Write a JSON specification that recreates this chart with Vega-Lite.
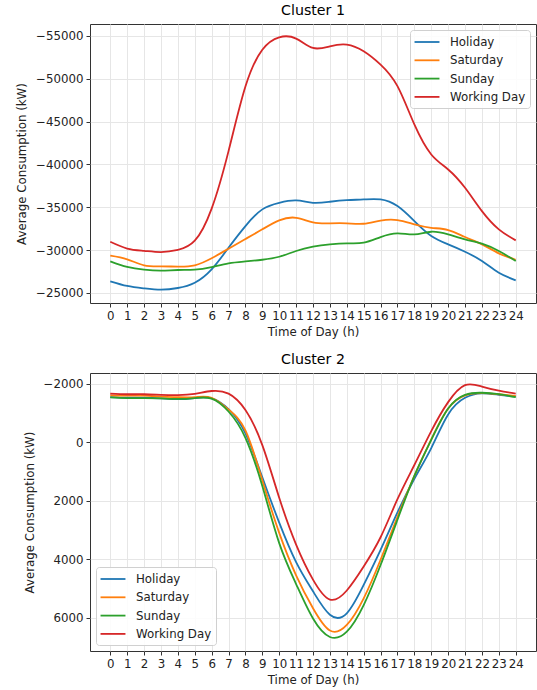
{
  "$schema": "https://vega.github.io/schema/vega-lite/v6.json",
  "padding": {"left": 16, "top": 3, "right": 0, "bottom": 0},
  "spacing": 12,
  "data": {"values": [
    {"c":1,"t":"Holiday","h":0,"v":-26360},{"c":1,"t":"Holiday","h":1,"v":-25820},{"c":1,"t":"Holiday","h":2,"v":-25540},{"c":1,"t":"Holiday","h":3,"v":-25390},{"c":1,"t":"Holiday","h":4,"v":-25580},{"c":1,"t":"Holiday","h":5,"v":-26200},{"c":1,"t":"Holiday","h":6,"v":-27760},{"c":1,"t":"Holiday","h":7,"v":-30280},{"c":1,"t":"Holiday","h":8,"v":-32810},{"c":1,"t":"Holiday","h":9,"v":-34760},{"c":1,"t":"Holiday","h":10,"v":-35530},{"c":1,"t":"Holiday","h":11,"v":-35800},{"c":1,"t":"Holiday","h":12,"v":-35530},{"c":1,"t":"Holiday","h":13,"v":-35650},{"c":1,"t":"Holiday","h":14,"v":-35840},{"c":1,"t":"Holiday","h":15,"v":-35920},{"c":1,"t":"Holiday","h":16,"v":-35920},{"c":1,"t":"Holiday","h":17,"v":-35140},{"c":1,"t":"Holiday","h":18,"v":-33390},{"c":1,"t":"Holiday","h":19,"v":-31650},{"c":1,"t":"Holiday","h":20,"v":-30680},{"c":1,"t":"Holiday","h":21,"v":-29820},{"c":1,"t":"Holiday","h":22,"v":-28730},{"c":1,"t":"Holiday","h":23,"v":-27370},{"c":1,"t":"Holiday","h":24,"v":-26480},
    {"c":1,"t":"Saturday","h":0,"v":-29350},{"c":1,"t":"Saturday","h":1,"v":-28930},{"c":1,"t":"Saturday","h":2,"v":-28230},{"c":1,"t":"Saturday","h":3,"v":-28110},{"c":1,"t":"Saturday","h":4,"v":-28070},{"c":1,"t":"Saturday","h":5,"v":-28230},{"c":1,"t":"Saturday","h":6,"v":-29050},{"c":1,"t":"Saturday","h":7,"v":-30170},{"c":1,"t":"Saturday","h":8,"v":-31300},{"c":1,"t":"Saturday","h":9,"v":-32430},{"c":1,"t":"Saturday","h":10,"v":-33480},{"c":1,"t":"Saturday","h":11,"v":-33780},{"c":1,"t":"Saturday","h":12,"v":-33240},{"c":1,"t":"Saturday","h":13,"v":-33130},{"c":1,"t":"Saturday","h":14,"v":-33130},{"c":1,"t":"Saturday","h":15,"v":-33080},{"c":1,"t":"Saturday","h":16,"v":-33450},{"c":1,"t":"Saturday","h":17,"v":-33510},{"c":1,"t":"Saturday","h":18,"v":-33010},{"c":1,"t":"Saturday","h":19,"v":-32610},{"c":1,"t":"Saturday","h":20,"v":-32350},{"c":1,"t":"Saturday","h":21,"v":-31530},{"c":1,"t":"Saturday","h":22,"v":-30680},{"c":1,"t":"Saturday","h":23,"v":-29630},{"c":1,"t":"Saturday","h":24,"v":-28880},
    {"c":1,"t":"Sunday","h":0,"v":-28700},{"c":1,"t":"Sunday","h":1,"v":-28050},{"c":1,"t":"Sunday","h":2,"v":-27720},{"c":1,"t":"Sunday","h":3,"v":-27600},{"c":1,"t":"Sunday","h":4,"v":-27680},{"c":1,"t":"Sunday","h":5,"v":-27720},{"c":1,"t":"Sunday","h":6,"v":-28030},{"c":1,"t":"Sunday","h":7,"v":-28460},{"c":1,"t":"Sunday","h":8,"v":-28680},{"c":1,"t":"Sunday","h":9,"v":-28880},{"c":1,"t":"Sunday","h":10,"v":-29230},{"c":1,"t":"Sunday","h":11,"v":-29900},{"c":1,"t":"Sunday","h":12,"v":-30400},{"c":1,"t":"Sunday","h":13,"v":-30680},{"c":1,"t":"Sunday","h":14,"v":-30800},{"c":1,"t":"Sunday","h":15,"v":-30870},{"c":1,"t":"Sunday","h":16,"v":-31530},{"c":1,"t":"Sunday","h":17,"v":-31960},{"c":1,"t":"Sunday","h":18,"v":-31840},{"c":1,"t":"Sunday","h":19,"v":-32150},{"c":1,"t":"Sunday","h":20,"v":-31840},{"c":1,"t":"Sunday","h":21,"v":-31260},{"c":1,"t":"Sunday","h":22,"v":-30750},{"c":1,"t":"Sunday","h":23,"v":-29900},{"c":1,"t":"Sunday","h":24,"v":-28730},
    {"c":1,"t":"Working Day","h":0,"v":-30980},{"c":1,"t":"Working Day","h":1,"v":-30190},{"c":1,"t":"Working Day","h":2,"v":-29920},{"c":1,"t":"Working Day","h":3,"v":-29780},{"c":1,"t":"Working Day","h":4,"v":-30030},{"c":1,"t":"Working Day","h":5,"v":-31100},{"c":1,"t":"Working Day","h":6,"v":-34850},{"c":1,"t":"Working Day","h":7,"v":-41560},{"c":1,"t":"Working Day","h":8,"v":-49100},{"c":1,"t":"Working Day","h":9,"v":-53400},{"c":1,"t":"Working Day","h":10,"v":-54850},{"c":1,"t":"Working Day","h":11,"v":-54700},{"c":1,"t":"Working Day","h":12,"v":-53600},{"c":1,"t":"Working Day","h":13,"v":-53800},{"c":1,"t":"Working Day","h":14,"v":-54000},{"c":1,"t":"Working Day","h":15,"v":-53220},{"c":1,"t":"Working Day","h":16,"v":-51660},{"c":1,"t":"Working Day","h":17,"v":-49140},{"c":1,"t":"Working Day","h":18,"v":-44670},{"c":1,"t":"Working Day","h":19,"v":-41170},{"c":1,"t":"Working Day","h":20,"v":-39420},{"c":1,"t":"Working Day","h":21,"v":-37280},{"c":1,"t":"Working Day","h":22,"v":-34560},{"c":1,"t":"Working Day","h":23,"v":-32430},{"c":1,"t":"Working Day","h":24,"v":-31140},
    {"c":2,"t":"Holiday","h":0,"v":-1540},{"c":2,"t":"Holiday","h":1,"v":-1520},{"c":2,"t":"Holiday","h":2,"v":-1520},{"c":2,"t":"Holiday","h":3,"v":-1500},{"c":2,"t":"Holiday","h":4,"v":-1470},{"c":2,"t":"Holiday","h":5,"v":-1510},{"c":2,"t":"Holiday","h":6,"v":-1500},{"c":2,"t":"Holiday","h":7,"v":-1130},{"c":2,"t":"Holiday","h":8,"v":-300},{"c":2,"t":"Holiday","h":9,"v":1200},{"c":2,"t":"Holiday","h":10,"v":2750},{"c":2,"t":"Holiday","h":11,"v":4100},{"c":2,"t":"Holiday","h":12,"v":5100},{"c":2,"t":"Holiday","h":13,"v":5900},{"c":2,"t":"Holiday","h":14,"v":5850},{"c":2,"t":"Holiday","h":15,"v":4880},{"c":2,"t":"Holiday","h":16,"v":3680},{"c":2,"t":"Holiday","h":17,"v":2400},{"c":2,"t":"Holiday","h":18,"v":1250},{"c":2,"t":"Holiday","h":19,"v":200},{"c":2,"t":"Holiday","h":20,"v":-950},{"c":2,"t":"Holiday","h":21,"v":-1520},{"c":2,"t":"Holiday","h":22,"v":-1670},{"c":2,"t":"Holiday","h":23,"v":-1620},{"c":2,"t":"Holiday","h":24,"v":-1560},
    {"c":2,"t":"Saturday","h":0,"v":-1600},{"c":2,"t":"Saturday","h":1,"v":-1590},{"c":2,"t":"Saturday","h":2,"v":-1590},{"c":2,"t":"Saturday","h":3,"v":-1560},{"c":2,"t":"Saturday","h":4,"v":-1540},{"c":2,"t":"Saturday","h":5,"v":-1540},{"c":2,"t":"Saturday","h":6,"v":-1520},{"c":2,"t":"Saturday","h":7,"v":-1120},{"c":2,"t":"Saturday","h":8,"v":-400},{"c":2,"t":"Saturday","h":9,"v":1300},{"c":2,"t":"Saturday","h":10,"v":3100},{"c":2,"t":"Saturday","h":11,"v":4550},{"c":2,"t":"Saturday","h":12,"v":5680},{"c":2,"t":"Saturday","h":13,"v":6440},{"c":2,"t":"Saturday","h":14,"v":6250},{"c":2,"t":"Saturday","h":15,"v":5340},{"c":2,"t":"Saturday","h":16,"v":4020},{"c":2,"t":"Saturday","h":17,"v":2550},{"c":2,"t":"Saturday","h":18,"v":1150},{"c":2,"t":"Saturday","h":19,"v":-100},{"c":2,"t":"Saturday","h":20,"v":-1150},{"c":2,"t":"Saturday","h":21,"v":-1600},{"c":2,"t":"Saturday","h":22,"v":-1680},{"c":2,"t":"Saturday","h":23,"v":-1640},{"c":2,"t":"Saturday","h":24,"v":-1580},
    {"c":2,"t":"Sunday","h":0,"v":-1530},{"c":2,"t":"Sunday","h":1,"v":-1510},{"c":2,"t":"Sunday","h":2,"v":-1510},{"c":2,"t":"Sunday","h":3,"v":-1500},{"c":2,"t":"Sunday","h":4,"v":-1480},{"c":2,"t":"Sunday","h":5,"v":-1510},{"c":2,"t":"Sunday","h":6,"v":-1490},{"c":2,"t":"Sunday","h":7,"v":-1050},{"c":2,"t":"Sunday","h":8,"v":-150},{"c":2,"t":"Sunday","h":9,"v":1500},{"c":2,"t":"Sunday","h":10,"v":3450},{"c":2,"t":"Sunday","h":11,"v":4850},{"c":2,"t":"Sunday","h":12,"v":6030},{"c":2,"t":"Sunday","h":13,"v":6660},{"c":2,"t":"Sunday","h":14,"v":6480},{"c":2,"t":"Sunday","h":15,"v":5570},{"c":2,"t":"Sunday","h":16,"v":4200},{"c":2,"t":"Sunday","h":17,"v":2650},{"c":2,"t":"Sunday","h":18,"v":1150},{"c":2,"t":"Sunday","h":19,"v":-80},{"c":2,"t":"Sunday","h":20,"v":-1150},{"c":2,"t":"Sunday","h":21,"v":-1620},{"c":2,"t":"Sunday","h":22,"v":-1690},{"c":2,"t":"Sunday","h":23,"v":-1640},{"c":2,"t":"Sunday","h":24,"v":-1540},
    {"c":2,"t":"Working Day","h":0,"v":-1660},{"c":2,"t":"Working Day","h":1,"v":-1640},{"c":2,"t":"Working Day","h":2,"v":-1640},{"c":2,"t":"Working Day","h":3,"v":-1620},{"c":2,"t":"Working Day","h":4,"v":-1610},{"c":2,"t":"Working Day","h":5,"v":-1650},{"c":2,"t":"Working Day","h":6,"v":-1750},{"c":2,"t":"Working Day","h":7,"v":-1660},{"c":2,"t":"Working Day","h":8,"v":-1100},{"c":2,"t":"Working Day","h":9,"v":100},{"c":2,"t":"Working Day","h":10,"v":1900},{"c":2,"t":"Working Day","h":11,"v":3500},{"c":2,"t":"Working Day","h":12,"v":4700},{"c":2,"t":"Working Day","h":13,"v":5380},{"c":2,"t":"Working Day","h":14,"v":5070},{"c":2,"t":"Working Day","h":15,"v":4250},{"c":2,"t":"Working Day","h":16,"v":3250},{"c":2,"t":"Working Day","h":17,"v":1950},{"c":2,"t":"Working Day","h":18,"v":780},{"c":2,"t":"Working Day","h":19,"v":-380},{"c":2,"t":"Working Day","h":20,"v":-1370},{"c":2,"t":"Working Day","h":21,"v":-1950},{"c":2,"t":"Working Day","h":22,"v":-1900},{"c":2,"t":"Working Day","h":23,"v":-1760},{"c":2,"t":"Working Day","h":24,"v":-1660}
  ]},
  "resolve": {"legend": {"color": "independent"}, "scale": {"y": "independent"}},
  "vconcat": [
    {
      "title": "Cluster 1",
      "width": 446, "height": 279,
      "transform": [{"filter": "datum.c == 1"}],
      "mark": {"type": "line", "interpolate": "natural", "strokeWidth": 1.8},
      "encoding": {
        "x": {"field": "h", "type": "quantitative", "title": "Time of Day (h)",
              "scale": {"domain": [-1.2, 25.2], "nice": false, "zero": false},
              "axis": {"values": [0,1,2,3,4,5,6,7,8,9,10,11,12,13,14,15,16,17,18,19,20,21,22,23,24], "format": "d"}},
        "y": {"field": "v", "type": "quantitative", "title": "Average Consumption (kW)",
              "scale": {"domain": [-56400, -23830], "nice": false, "zero": false, "reverse": true},
              "axis": {"values": [-55000,-50000,-45000,-40000,-35000,-30000,-25000], "format": "d"}},
        "color": {"field": "t", "type": "nominal",
                  "scale": {"domain": ["Holiday","Saturday","Sunday","Working Day"], "range": ["#1f77b4","#ff7f0e","#2ca02c","#d62728"]},
                  "legend": {"orient": "top-right", "offset": 6}}
      }
    },
    {
      "title": "Cluster 2",
      "width": 446, "height": 278,
      "transform": [{"filter": "datum.c == 2"}],
      "mark": {"type": "line", "interpolate": "natural", "strokeWidth": 1.8},
      "encoding": {
        "x": {"field": "h", "type": "quantitative", "title": "Time of Day (h)",
              "scale": {"domain": [-1.2, 25.2], "nice": false, "zero": false},
              "axis": {"values": [0,1,2,3,4,5,6,7,8,9,10,11,12,13,14,15,16,17,18,19,20,21,22,23,24], "format": "d"}},
        "y": {"field": "v", "type": "quantitative", "title": "Average Consumption (kW)",
              "scale": {"domain": [-2366, 7140], "nice": false, "zero": false, "reverse": true},
              "axis": {"values": [-2000,0,2000,4000,6000], "format": "d"}},
        "color": {"field": "t", "type": "nominal",
                  "scale": {"domain": ["Holiday","Saturday","Sunday","Working Day"], "range": ["#1f77b4","#ff7f0e","#2ca02c","#d62728"]},
                  "legend": {"orient": "bottom-left", "offset": 6}}
      }
    }
  ],
  "config": {
    "font": "DejaVu Sans",
    "view": {"stroke": "#333", "strokeWidth": 1},
    "title": {"fontSize": 14.2, "fontWeight": "normal", "color": "#000", "offset": 6, "font": "DejaVu Sans"},
    "axis": {
      "domain": false, "grid": true, "gridColor": "#e6e6e6", "gridWidth": 1,
      "tickColor": "#333", "tickSize": 4, "labelFontSize": 11.8, "labelColor": "#222", "labelFont": "DejaVu Sans",
      "titleFontSize": 11.8, "titleFontWeight": "normal", "titleColor": "#222", "titleFont": "DejaVu Sans",
      "labelPadding": 3, "titlePadding": 5, "labelOverlap": false, "labelFlush": false
    },
    "axisY": {"titlePadding": 8},
    "legend": {
      "title": null, "symbolType": "M-1.78,0H1.78", "symbolStrokeWidth": 1.8, "symbolSize": 196, "symbolOffset": 5,
      "labelFontSize": 11.8, "labelColor": "#222", "labelFont": "DejaVu Sans", "labelOffset": 15,
      "rowPadding": 3.3, "padding": 4, "strokeColor": "#d0d0d0", "fillColor": "rgba(255,255,255,0.85)", "cornerRadius": 3
    }
  }
}
